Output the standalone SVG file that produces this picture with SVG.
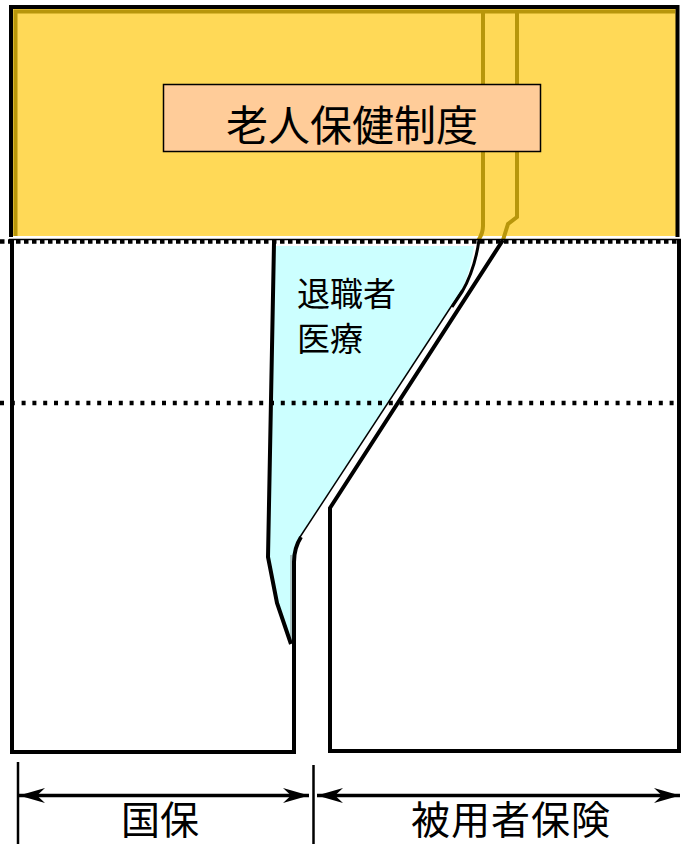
<svg xmlns="http://www.w3.org/2000/svg" width="681" height="844" viewBox="0 0 681 844">
<defs>
<marker id="ah" viewBox="-27 -8 28 16" markerWidth="28" markerHeight="16" refX="0" refY="0" orient="auto-start-reverse" markerUnits="userSpaceOnUse">
<path d="M0,0 L-26,-7.5 L-18,0 L-26,7.5 Z" fill="#000"/>
</marker>
<style>
.jp{font-family:"Noto Sans CJK JP","Noto Sans CJK SC",sans-serif;fill:#000}
.blk{fill:none;stroke:#000;stroke-width:4;stroke-linejoin:miter}
.gold{fill:none;stroke:#B8960B;stroke-width:4}
.dot{fill:none;stroke:#000;stroke-width:4.5}
.dim{fill:none;stroke:#000;stroke-width:3.5}
.tick{fill:none;stroke:#000;stroke-width:2.5}
</style>
</defs>
<rect width="681" height="844" fill="#fff"/>
<g id="roken">
<rect x="11" y="7" width="666.5" height="229" fill="#FFD957"/>
<path class="gold" d="M15.5,236 L15.5,11.5 L675,11.5" stroke-width="4.5"/>
<path class="gold" d="M483,12 L483,226 Q483,233 478.5,240"/>
<path class="gold" d="M517,12 L517,217 L508,224 L503,240"/>
<path class="blk" d="M11,237 L11,7 L677.5,7 L677.5,237"/>
<rect x="163.5" y="84.5" width="377" height="67" fill="#FFCC99" stroke="#000" stroke-width="1.5"/>
<text class="jp" x="352" y="141" font-size="42" text-anchor="middle">老人保健制度</text>
</g>
<g id="taishoku">
<path d="M274,246 L474,246 C472,262 468,276 462,290 L300,537 Q293,547 293,560 L293,642 L289,641 L276,601 L269,557 Z" fill="#CCFFFF"/>
<path d="M462,290 L300,537" fill="none" stroke="#000" stroke-width="1.5"/>
<path d="M291,555 L291,640" fill="none" stroke="#888" stroke-width="1"/>
<path d="M479,240 C476,262 470,278 462,292 L452,307" fill="none" stroke="#000" stroke-width="3"/>
<text class="jp" x="297" y="306" font-size="33">退職者</text>
<text class="jp" x="297" y="351" font-size="33">医療</text>
</g>
<g id="kokuho">
<path class="blk" d="M12,239 L12,752 L294,752 L294,562 Q294,548 301,537"/>
<path class="blk" d="M274,243 L268,557 L277,603 L291,644"/>
</g>
<g id="hiyosha">
<path class="blk" d="M503,240 L330,508 L330,751 L679,751 L679,239"/>
</g>
<g id="lines">
<line x1="9" y1="239.5" x2="681" y2="239.5" stroke="#000" stroke-width="1.5"/>
<line class="dot" x1="0" y1="241.5" x2="681" y2="241.5" stroke-dasharray="4.5 3.5"/>
<line class="dot" x1="0" y1="403" x2="681" y2="403" stroke-dasharray="4 6.8"/>
</g>
<g id="dimensions">
<line class="tick" x1="18" y1="762" x2="18" y2="844"/>
<line class="tick" x1="313.5" y1="765" x2="313.5" y2="844"/>
<line class="dim" x1="19" y1="795.5" x2="309" y2="795.5" marker-start="url(#ah)" marker-end="url(#ah)"/>
<line class="dim" x1="317" y1="795.5" x2="680" y2="795.5" marker-start="url(#ah)" marker-end="url(#ah)"/>
<text class="jp" x="160" y="834" font-size="39" text-anchor="middle">国保</text>
<text class="jp" x="511" y="834" font-size="39" text-anchor="middle" letter-spacing="1">被用者保険</text>
</g>
</svg>
